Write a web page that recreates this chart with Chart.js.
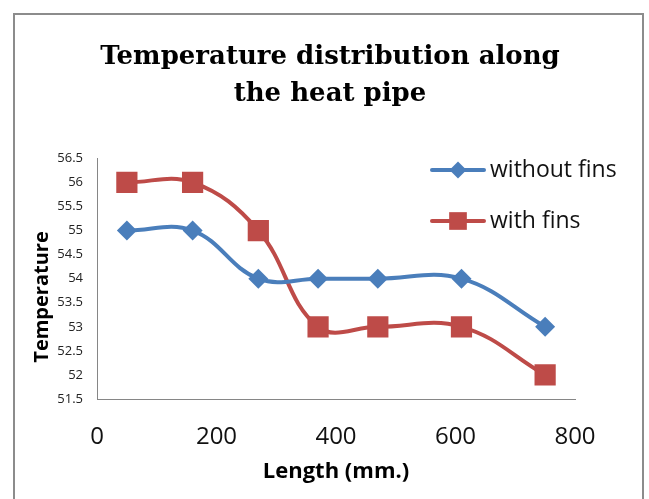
<!DOCTYPE html>
<html>
<head>
<meta charset="utf-8">
<script src="https://cdn.jsdelivr.net/npm/chart.js@4"></script>
<style>
  html, body { margin: 0; padding: 0; background: #fff; }
  #wrap { position: relative; width: 649px; height: 499px; overflow: hidden; }
  #frame { position: absolute; left: 13px; top: 13px; width: 627px; height: 520px; border: 2px solid #8c8c8c; }
  canvas { position: absolute; left: 0; top: 0; }
</style>
</head>
<body>
<div id="wrap">
  <div id="frame"></div>
  <canvas id="tempChart" width="649" height="499"></canvas>
</div>
<script>
// Pipe length (mm) and measured temperatures
const lengths = [50, 160, 270, 370, 470, 610, 750];
const withoutFins = [55, 55, 54, 54, 54, 54, 53];
const withFins = [56, 56, 55, 53, 53, 53, 52];
const seriesNames = ['without fins', 'with fins'];
const yTitle = 'Temperature';

const blue = '#4a7ebb';
const red = '#be4b48';

function toPoints(ys) {
  return lengths.map((x, i) => ({ x: x, y: ys[i] }));
}

// legend with a short line through each marker, plus the y axis caption
// (drawn here so it can sit a little below the middle of the axis)
const lineLegend = {
  id: 'lineLegend',
  afterDraw(chart) {
    const ctx = chart.ctx;
    const rows = [170, 221];
    chart.data.datasets.forEach((ds, i) => {
      const y = rows[i];
      ctx.save();
      ctx.strokeStyle = ds.borderColor;
      ctx.lineWidth = 4;
      ctx.lineCap = 'round';
      ctx.beginPath();
      ctx.moveTo(432, y);
      ctx.lineTo(484, y);
      ctx.stroke();
      ctx.fillStyle = ds.pointBackgroundColor;
      Chart.helpers.drawPoint(ctx, {
        pointStyle: ds.pointStyle,
        radius: i === 0 ? 8.5 : 12.5,
        borderWidth: 0,
        rotation: 0
      }, 458, y);
      ctx.fillStyle = '#111';
      ctx.font = '23px "Open Sans"';
      ctx.textBaseline = 'middle';
      ctx.fillText(ds.label, 490, y);
      ctx.restore();
    });

    ctx.save();
    ctx.translate(42, 297);
    ctx.rotate(-Math.PI / 2);
    ctx.fillStyle = '#000';
    ctx.font = 'bold 20px "Open Sans"';
    ctx.textAlign = 'center';
    ctx.textBaseline = 'middle';
    ctx.fillText(yTitle, 0, 0);
    ctx.restore();
  }
};

new Chart(document.getElementById('tempChart'), {
  type: 'scatter',
  data: {
    datasets: [
      {
        label: seriesNames[0],
        data: toPoints(withoutFins),
        showLine: true,
        tension: 0.4,
        borderColor: blue,
        borderWidth: 4,
        pointStyle: 'rectRot',
        pointRadius: 10,
        pointBackgroundColor: blue,
        pointBorderWidth: 0
      },
      {
        label: seriesNames[1],
        data: toPoints(withFins),
        showLine: true,
        tension: 0.4,
        borderColor: red,
        borderWidth: 4,
        pointStyle: 'rect',
        pointRadius: 15,
        pointBackgroundColor: red,
        pointBorderWidth: 0
      }
    ]
  },
  options: {
    responsive: false,
    animation: false,
    layout: { padding: { left: 24, right: 13, top: 0, bottom: 0 } },
    plugins: {
      legend: { display: false },
      tooltip: { enabled: false },
      title: {
        display: true,
        text: ['Temperature distribution along', 'the heat pipe'],
        color: '#000',
        font: { family: '"DejaVu Serif"', size: 26, weight: 'bold', lineHeight: 1.45 },
        padding: { top: 38, bottom: 45 }
      }
    },
    scales: {
      x: {
        type: 'linear',
        min: 0,
        max: 800,
        ticks: { stepSize: 200, color: '#111', font: { family: '"Open Sans"', size: 24 }, padding: 24, maxRotation: 0 },
        grid: { display: false, drawTicks: false },
        border: { display: true, color: '#868686', width: 1 },
        title: {
          display: true,
          text: 'Length (mm.)',
          color: '#000',
          font: { family: '"Open Sans"', size: 22, weight: 'bold' },
          padding: { top: 0, bottom: 14 }
        },
        afterFit(scale) { scale.height = 100; }
      },
      y: {
        min: 51.5,
        max: 56.5,
        ticks: {
          stepSize: 0.5,
          color: '#222',
          font: { family: '"Open Sans"', size: 13 },
          padding: 14,
          callback: (v) => String(v)
        },
        grid: { display: false, drawTicks: false },
        border: { display: true, color: '#868686', width: 1 },
        afterFit(scale) { scale.width = 73; }
      },
      // empty right-hand strip so the plot ends at 800 while the title stays centred on the frame
      side: {
        position: 'right',
        display: true,
        ticks: { display: false },
        grid: { display: false, drawTicks: false },
        border: { display: false },
        afterFit(scale) { scale.width = 61; }
      }
    }
  },
  plugins: [lineLegend]
});
</script>
</body>
</html>
